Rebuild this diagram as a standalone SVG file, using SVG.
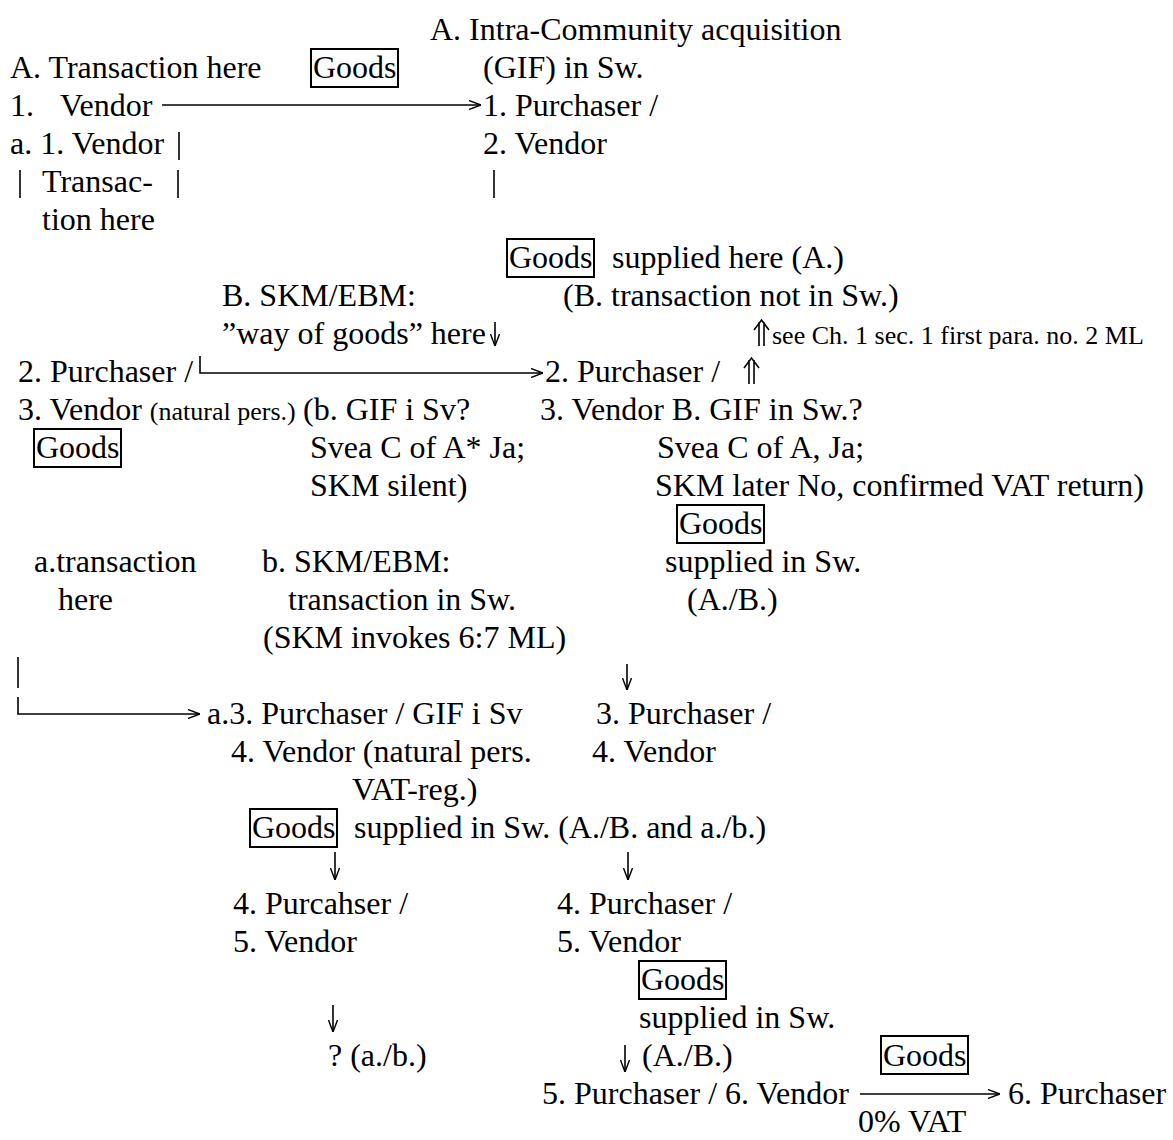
<svg xmlns="http://www.w3.org/2000/svg" width="1173" height="1140" viewBox="0 0 1173 1140">
<style>
text{font-family:"Liberation Serif","Times New Roman",serif;font-size:32px;fill:#000}
.s{font-size:26px}
.box{fill:none;stroke:#000;stroke-width:2}
.c{fill:none;stroke:#000;stroke-width:1.6}
</style>
<defs>
<marker id="ah" viewBox="0 0 12 10" refX="12" refY="5" markerWidth="12" markerHeight="10" markerUnits="userSpaceOnUse" orient="auto">
<path d="M0,0.5 L12,5 L0,9.5" fill="none" stroke="#000" stroke-width="1.4"/>
</marker>
</defs>
<rect width="1173" height="1140" fill="#fff"/>
<g id="connectors">
<path class="c" d="M162,105 H481" marker-end="url(#ah)"/>
<path class="c" d="M179,132 V160"/>
<path class="c" d="M20,170 V198"/>
<path class="c" d="M178,170 V198"/>
<path class="c" d="M494,170 V198"/>
<path class="c" d="M495,322 V346" marker-end="url(#ah)"/>
<path class="c" d="M759,346 V322 M764,346 V322 M754,330 L761.5,320 L769,330"/>
<path class="c" d="M749,384 V360 M754,384 V360 M744,368 L751.5,358 L759,368"/>
<path class="c" d="M200,356 V373 H543" marker-end="url(#ah)"/>
<path class="c" d="M18,657 V688"/>
<path class="c" d="M18,697 V714 H200" marker-end="url(#ah)"/>
<path class="c" d="M627,664 V690" marker-end="url(#ah)"/>
<path class="c" d="M335,852 V880" marker-end="url(#ah)"/>
<path class="c" d="M628,852 V880" marker-end="url(#ah)"/>
<path class="c" d="M333,1005 V1032" marker-end="url(#ah)"/>
<path class="c" d="M625,1045 V1072" marker-end="url(#ah)"/>
<path class="c" d="M860,1094 H1000" marker-end="url(#ah)"/>
</g>
<g id="n-ica"><text x="430" y="40">A. Intra-Community acquisition</text><text x="483" y="78">(GIF) in Sw.</text></g>
<g id="n-txhere"><text x="10" y="78">A. Transaction here</text></g>
<g id="n-goods1"><rect class="box" x="311" y="49" width="87" height="38"/><text x="313" y="78">Goods</text></g>
<g id="n-v1"><text x="10" y="116">1.</text><text x="60" y="116">Vendor</text></g>
<g id="n-p1"><text x="483" y="116">1. Purchaser /</text><text x="483" y="154">2. Vendor</text></g>
<g id="n-a1"><text x="10" y="154">a. 1. Vendor</text><text x="42" y="192">Transac-</text><text x="42" y="230">tion here</text></g>
<g id="n-goods2"><rect class="box" x="507" y="239" width="87" height="38"/><text x="509" y="268">Goods</text><text x="612" y="268">supplied here (A.)</text></g>
<g id="n-b"><text x="222" y="306">B. SKM/EBM:</text><text x="222" y="344">”way of goods” here</text></g>
<g id="n-bnot"><text x="563" y="306">(B. transaction not in Sw.)</text></g>
<g id="n-see"><text class="s" x="772" y="344">see Ch. 1 sec. 1 first para. no. 2 ML</text></g>
<g id="n-p2l"><text x="18" y="382">2. Purchaser /</text><text x="18" y="420">3. Vendor <tspan class="s" font-size="27">(natural pers.)</tspan></text></g>
<g id="n-goods3"><rect class="box" x="34" y="429" width="87" height="38"/><text x="36" y="458">Goods</text></g>
<g id="n-bgif"><text x="303" y="420">(b. GIF i Sv?</text><text x="310" y="458">Svea C of A* Ja;</text><text x="310" y="496">SKM silent)</text></g>
<g id="n-p2r"><text x="545" y="382">2. Purchaser /</text><text x="540" y="420">3. Vendor B. GIF in Sw.?</text><text x="657" y="458">Svea C of A, Ja;</text><text x="655" y="496">SKM later No, confirmed VAT return)</text></g>
<g id="n-goods4"><rect class="box" x="677" y="505" width="87" height="38"/><text x="679" y="534">Goods</text><text x="665" y="572">supplied in Sw.</text><text x="687" y="610">(A./B.)</text></g>
<g id="n-atx"><text x="34" y="572">a.transaction</text><text x="58" y="610">here</text></g>
<g id="n-bskm"><text x="262" y="572">b. SKM/EBM:</text><text x="288" y="610">transaction in Sw.</text><text x="263" y="648">(SKM invokes 6:7 ML)</text></g>
<g id="n-a3"><text x="207" y="724">a.3. Purchaser / GIF i Sv</text><text x="231" y="762">4. Vendor (natural pers.</text><text x="352" y="800">VAT-reg.)</text></g>
<g id="n-p3"><text x="596" y="724">3. Purchaser /</text><text x="592" y="762">4. Vendor</text></g>
<g id="n-goods5"><rect class="box" x="250" y="809" width="87" height="38"/><text x="252" y="838">Goods</text><text x="354" y="838">supplied in Sw. (A./B. and a./b.)</text></g>
<g id="n-p4l"><text x="233" y="914">4. Purcahser /</text><text x="233" y="952">5. Vendor</text></g>
<g id="n-p4r"><text x="557" y="914">4. Purchaser /</text><text x="557" y="952">5. Vendor</text></g>
<g id="n-goods6"><rect class="box" x="639" y="961" width="87" height="38"/><text x="641" y="990">Goods</text><text x="639" y="1028">supplied in Sw.</text><text x="642" y="1066">(A./B.)</text></g>
<g id="n-q"><text x="328" y="1066">? (a./b.)</text></g>
<g id="n-p5"><text x="542" y="1104">5. Purchaser / 6. Vendor</text></g>
<g id="n-goods7"><rect class="box" x="881" y="1036" width="87" height="38"/><text x="883" y="1066">Goods</text><text x="858" y="1132">0% VAT</text></g>
<g id="n-p6"><text x="1008" y="1104">6. Purchaser</text></g>
</svg>
